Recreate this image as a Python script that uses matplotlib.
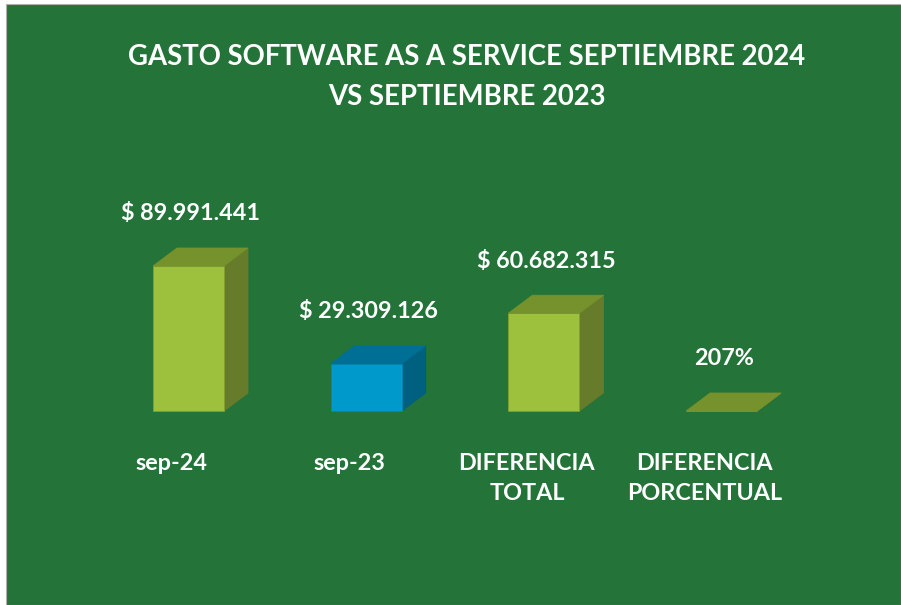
import matplotlib
matplotlib.use("Agg")
import matplotlib.pyplot as plt
from matplotlib.patches import Polygon, Rectangle

categories = ["sep-24", "sep-23", "DIFERENCIA\nTOTAL", "DIFERENCIA\nPORCENTUAL"]
values = [89991441, 29309126, 60682315, 2.07]
value_labels = ["$ 89.991.441", "$ 29.309.126", "$ 60.682.315", "207%"]
title = "GASTO SOFTWARE AS A SERVICE SEPTIEMBRE 2024\nVS SEPTIEMBRE 2023"

BG = "#247339"
face_cols = ["#9DC13C", "#0099CC", "#9DC13C", "#9DC13C"]
top_cols = ["#76922C", "#006F96", "#76922C", "#76922C"]
side_cols = ["#667C2A", "#00607F", "#667C2A", "#667C2A"]

W, H, DPI = 901, 605, 100
fig = plt.figure(figsize=(W / DPI, H / DPI), dpi=DPI, facecolor="white")
fig.patches.append(Rectangle((6 / W, 0), 1 - 6 / W, (H - 4) / H, transform=fig.transFigure,
                             facecolor=BG, edgecolor="#B0B0B0", linewidth=0.8, zorder=-5))

ax = fig.add_axes([0, 0, 1, 1])
ax.set_zorder(2)
ax.set_facecolor("none")
ax.axis("off")

# pixel geometry -> data scales
x0_px, step_px = 188.5, 177.7
base_px = H - 411
px_per_val = 145 / 89991441
ax.set_xlim(-x0_px / step_px, (W - x0_px) / step_px)
ax.set_ylim(-base_px / px_per_val, (H - base_px) / px_per_val)

bw = 71 / step_px
ddx = 24 / step_px
ddy = 18 / px_per_val

font = "Lato"
for i, v in enumerate(values):
    l, r = i - bw / 2, i + bw / 2
    ax.bar(i, v, width=bw, color=face_cols[i], edgecolor="#7FA030" if i != 1 else "#0088B8",
           linewidth=0.6, zorder=3)
    top = Polygon([(l, v), (r, v), (r + ddx, v + ddy), (l + ddx, v + ddy)], closed=True,
                  facecolor=top_cols[i], edgecolor=top_cols[i], linewidth=0.6, zorder=3)
    side = Polygon([(r, 0), (r + ddx, ddy), (r + ddx, v + ddy), (r, v)], closed=True,
                   facecolor=side_cols[i], edgecolor=side_cols[i], linewidth=0.6, zorder=2)
    ax.add_patch(side)
    ax.add_patch(top)
    ax.annotate(value_labels[i], (i + ddx / 2, v + ddy), xytext=(-10, 34),
                textcoords="offset pixels", ha="center", va="center", color="white",
                fontsize=16.8, fontweight="bold", family=font)
    ax.annotate(categories[i], (i, 0), xytext=(-17, -42), textcoords="offset pixels",
                ha="center", va="top", color="white", fontsize=16.8, fontweight="bold",
                family=font, linespacing=1.5)

fig.text(467 / W, 1 - 77 / H, title, ha="center", va="center", color="white",
         fontsize=19.8, fontweight="bold", family=font, linespacing=1.7)

fig.savefig("out.png", dpi=DPI, facecolor="white")
